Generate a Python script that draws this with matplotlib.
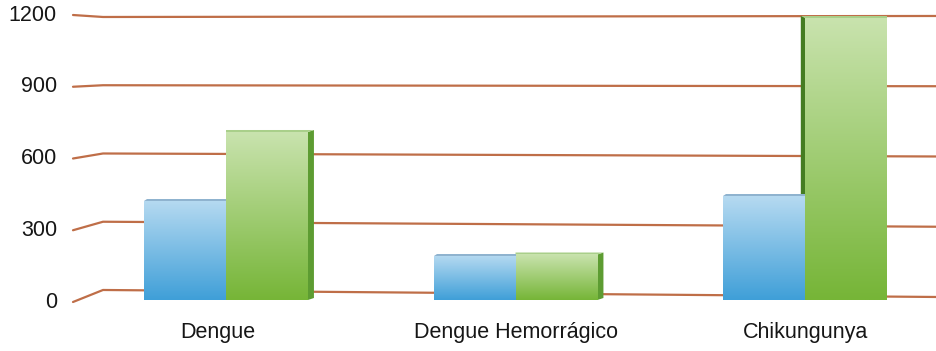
import numpy as np
import matplotlib
matplotlib.use("Agg")
import matplotlib.pyplot as plt
from matplotlib.colors import LinearSegmentedColormap
from matplotlib.patches import Polygon

categories = ["Dengue", "Dengue Hemorrágico", "Chikungunya"]
series_blue = [425, 190, 445]
series_green = [720, 195, 1210]
tick_values = [0, 300, 600, 900, 1200]
tick_labels = ["0", "300", "600", "900", "1200"]

plt.rcParams['font.family'] = ['Liberation Sans', 'DejaVu Sans']

fig = plt.figure(figsize=(9.36, 3.51), dpi=100)
ax = fig.add_axes([0, 0, 1, 1])
XMIN, XMAX = -0.7807, 2.4525
YMIN, YMAX = -218.6, 1285.7
PXX = (XMAX - XMIN) / 936.0   # data units per pixel (x)
PXY = (YMAX - YMIN) / 351.0   # data units per pixel (y)

grid_color = "#bf6e48"
text_color = "#161616"

# perspective-like gridlines with a bent stub on the left
x_lab = XMIN + 73 * PXX
x_bend = XMIN + 103 * PXX
for v, lab in zip(tick_values, tick_labels):
    y_lab = -8.6 + 1.025 * v
    y_left = 42.9 + 0.975 * v
    y_right = 12.9 + 1.0036 * v
    ax.plot([x_lab, x_bend, XMAX], [y_lab, y_left, y_right],
            color=grid_color, lw=1.6, zorder=1, solid_capstyle='round')
    ax.text(XMIN + 57 * PXX, y_lab, lab, ha='right', va='center',
            fontsize=15.5, color=text_color)

x = np.arange(len(categories))
w = 0.283
blue_cmap = LinearSegmentedColormap.from_list("b", ["#3f9fd8", "#b6daf1"])
green_cmap = LinearSegmentedColormap.from_list("g", ["#76b537", "#c9e3ae"])
grad = np.linspace(0, 1, 256).reshape(-1, 1)

def gradient_bars(bars, cmap, z):
    for b in bars:
        x0, y0 = b.get_x(), b.get_y()
        x1, y1 = x0 + b.get_width(), y0 + b.get_height()
        im = ax.imshow(grad, extent=[x0, x1, y0, y1], origin='lower',
                       aspect='auto', cmap=cmap, zorder=z, interpolation='bilinear')
        im.set_clip_path(b)

blue_bars = ax.bar(x - w / 2, series_blue, width=w, color="#7fc0e6",
                   linewidth=0, zorder=4)
green_bars = ax.bar(x + w / 2, series_green, width=w, color="#a0cc70",
                    linewidth=0, zorder=3)
gradient_bars(blue_bars, blue_cmap, 4.1)
gradient_bars(green_bars, green_cmap, 3.1)

side = 6 * PXX
lift = 2 * PXY
# side faces of green bars (right for first two, left for last)
for i, b in enumerate(green_bars):
    x0 = b.get_x(); x1 = x0 + b.get_width(); h = b.get_height()
    if i < 2:
        poly = Polygon([[x1, 0], [x1 + side, lift], [x1 + side, h + lift], [x1, h]],
                       closed=True, facecolor="#5d9c32", edgecolor='none', zorder=3)
    else:
        poly = Polygon([[x0 - side * 0.7, lift], [x0, 0], [x0, h], [x0 - side * 0.7, h + lift]],
                       closed=True, facecolor="#447c22", edgecolor='none', zorder=2.9)
    ax.add_patch(poly)
    ax.add_patch(Polygon([[x0, h], [x1, h], [x1 + (side if i < 2 else 0), h + lift],
                          [x0 + (0 if i < 2 else -side * 0.7), h + lift]],
                         closed=True, facecolor="#a9cf8a", edgecolor='none', zorder=3))

# thin top faces on blue bars
for b in blue_bars:
    x0 = b.get_x(); x1 = x0 + b.get_width(); h = b.get_height()
    ax.add_patch(Polygon([[x0, h], [x1, h], [x1, h + lift], [x0 + 3 * PXX, h + lift]],
                         closed=True, facecolor="#8fb3cf", edgecolor='none', zorder=4.2))

for xi, c in zip(x, categories):
    ax.text(xi - (8 * PXX if xi == 0 else 0), -141, c, ha='center', va='center',
            fontsize=15.5, color=text_color)

ax.set_xlim(XMIN, XMAX)
ax.set_ylim(YMIN, YMAX)
ax.axis('off')
fig.savefig("out.png", dpi=100, facecolor='white')
